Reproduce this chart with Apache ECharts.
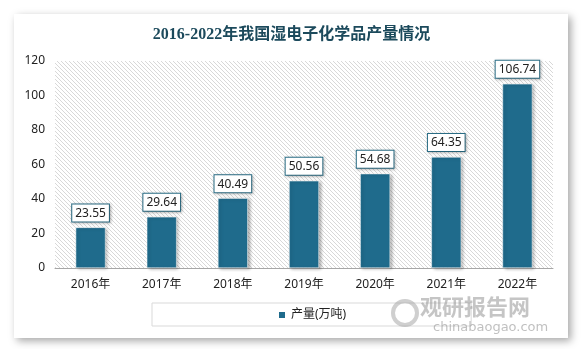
<!DOCTYPE html>
<html>
<head>
<meta charset="utf-8">
<script src="https://cdn.jsdelivr.net/npm/echarts@6/dist/echarts.min.js"></script>
<style>
html,body{margin:0;padding:0;background:#fff;}
#chart{width:583px;height:349px;}
</style>
</head>
<body>
<div id="chart"></div>
<script>
const titleText = '2016-2022年我国湿电子化学品产量情况';
const categories = ['2016年','2017年','2018年','2019年','2020年','2021年','2022年'];
const production = [23.55, 29.64, 40.49, 50.56, 54.68, 64.35, 106.74];
const seriesName = '产量(万吨)';
const yTicks = {min: 0, max: 120, interval: 20};

function hatch() {
  const c = document.createElement('canvas');
  c.width = 4; c.height = 4;
  const g = c.getContext('2d');
  g.fillStyle = '#ffffff';
  g.fillRect(0, 0, 4, 4);
  g.fillStyle = '#d8d8d8';
  for (let i = 0; i < 4; i++) g.fillRect(i, i, 1, 1);
  return c;
}

const chart = echarts.init(document.getElementById('chart'), null, {renderer: 'canvas'});
const font = "'Noto Sans', 'Noto Sans CJK SC', sans-serif";
chart.setOption({
  backgroundColor: '#ffffff',
  animation: false,
  graphic: [
    {
      type: 'rect', z: -10, silent: true,
      shape: {x: 14, y: 14, width: 554, height: 324},
      style: {fill: '#ffffff', shadowColor: 'rgba(0,0,0,0.35)', shadowBlur: 8, shadowOffsetX: 3, shadowOffsetY: 3}
    },
    {
      type: 'text', silent: true, z: 50, left: 420, top: 296,
      style: {text: '观研报告网', fill: 'rgba(150,150,150,0.55)', font: "bold 22px 'Noto Sans CJK SC'"}
    },
    {
      type: 'text', silent: true, z: 50, left: 433, top: 321,
      style: {text: 'chinabaogao.com', fill: 'rgba(150,150,150,0.6)', font: "13px 'DejaVu Sans'"}
    },
    {
      type: 'circle', silent: true, z: 50,
      shape: {cx: 405, cy: 313, r: 12},
      style: {fill: 'none', stroke: 'rgba(160,160,160,0.5)', lineWidth: 4}
    }
  ],
  title: {
    text: titleText,
    left: 'center',
    top: 22,
    textStyle: {fontFamily: "'Liberation Serif', 'Noto Sans CJK SC', serif", fontWeight: 'bold', fontSize: 16, color: '#1c4a5c'}
  },
  grid: {
    left: 55, right: 30, top: 61, bottom: 81,
    show: true,
    borderWidth: 0,
    backgroundColor: {image: hatch(), repeat: 'repeat'}
  },
  legend: {
    left: 152, top: 303,
    padding: [6, 125, 5, 125],
    borderColor: '#d9d9d9', borderWidth: 1,
    itemWidth: 8, itemHeight: 8, itemGap: 5,
    icon: 'rect',
    textStyle: {fontFamily: font, fontSize: 12, color: '#222'},
    data: [seriesName]
  },
  xAxis: {
    type: 'category',
    data: categories,
    axisLine: {lineStyle: {color: '#a6a6a6', width: 1}},
    axisTick: {show: false},
    axisLabel: {margin: 11, fontFamily: font, fontSize: 12, color: '#222'}
  },
  yAxis: {
    type: 'value',
    min: yTicks.min, max: yTicks.max, interval: yTicks.interval,
    axisLine: {show: false},
    axisTick: {show: false},
    splitLine: {show: false},
    axisLabel: {margin: 10, fontFamily: font, fontSize: 12, color: '#222'}
  },
  series: [{
    name: seriesName,
    type: 'bar',
    data: production,
    barWidth: '42%',
    itemStyle: {
      color: '#1f6b8c',
      borderColor: '#ffffff', borderWidth: 0.5,
      shadowColor: 'rgba(0,0,0,0.3)', shadowBlur: 3, shadowOffsetX: 2, shadowOffsetY: 1
    },
    label: {
      show: true,
      position: 'top',
      distance: 6,
      fontFamily: font, fontSize: 12, color: '#222',
      backgroundColor: '#ffffff',
      borderColor: '#2b6f88', borderWidth: 1,
      padding: [3, 3, 2, 3],
      shadowColor: 'rgba(0,0,0,0.25)', shadowBlur: 3, shadowOffsetX: 1, shadowOffsetY: 1
    }
  }]
});
</script>
</body>
</html>
